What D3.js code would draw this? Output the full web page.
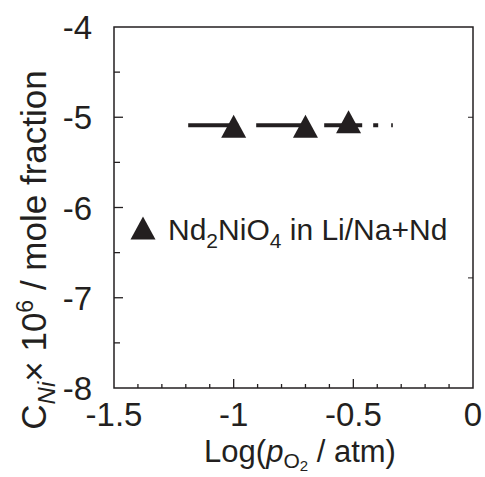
<!DOCTYPE html>
<html>
<head>
<meta charset="utf-8">
<style>
  body { margin:0; background:#fff; }
  svg text { font-family: "Liberation Sans", Arial, sans-serif; fill:#231f20; }
</style>
</head>
<body>
<div id="chart"></div>
<script src="https://cdn.jsdelivr.net/npm/d3@7"></script>
<script>
// data
var logPO2 = [-1.0, -0.7, -0.52];
var logC   = [-5.10, -5.10, -5.05];
var fitX   = [-1.19, -0.335];
var fitY   = [-5.09, -5.09];
var xTicks = [-1.5, -1, -0.5, 0];
var yTicks = [-8, -7, -6, -5, -4];
var rightTicks = [-5, -6.78];

var width = 485, height = 477;
var m = {left:114, right:12, top:27, bottom:89};

var svg = d3.select('#chart').append('svg')
    .attr('width', width).attr('height', height);

var x = d3.scaleLinear().domain([-1.5, 0]).range([m.left, width - m.right]);
var y = d3.scaleLinear().domain([-8, -4]).range([height - m.bottom, m.top]);

var ink = '#231f20';

// frame
svg.append('rect')
    .attr('x', x(-1.5)).attr('y', y(-4))
    .attr('width', x(0) - x(-1.5)).attr('height', y(-8) - y(-4))
    .attr('fill', 'none').attr('stroke', ink).attr('stroke-width', 1.5);

// inward ticks, minor every 0.1 on x and 0.5 on y
var xMinor = d3.range(-14, 0).map(d => d / 10);
svg.append('g').selectAll('line').data(xMinor).enter().append('line')
    .attr('x1', d => x(d)).attr('x2', d => x(d))
    .attr('y1', y(-8)).attr('y2', d => y(-8) - (Math.abs(d * 2 - Math.round(d * 2)) < 1e-6 ? 9 : 4))
    .attr('stroke', ink).attr('stroke-width', 1.3);

var yMinor = d3.range(-15, -8).map(d => d / 2);
svg.append('g').selectAll('line').data(yMinor).enter().append('line')
    .attr('x1', x(-1.5)).attr('x2', d => x(-1.5) + (Number.isInteger(d) ? 9 : 6))
    .attr('y1', d => y(d)).attr('y2', d => y(d))
    .attr('stroke', ink).attr('stroke-width', 1.3);

svg.append('g').selectAll('line').data(rightTicks).enter().append('line')
    .attr('x1', x(0)).attr('x2', x(0) - 5)
    .attr('y1', d => y(d)).attr('y2', d => y(d))
    .attr('stroke', ink).attr('stroke-width', 1);

// tick labels
svg.append('g').selectAll('text').data(xTicks).enter().append('text')
    .attr('x', d => x(d)).attr('y', 426)
    .attr('text-anchor', 'middle').attr('font-size', 33)
    .text(d => d);

svg.append('g').selectAll('text').data(yTicks).enter().append('text')
    .attr('x', 92).attr('y', d => y(d) + 12)
    .attr('text-anchor', 'end').attr('font-size', 33)
    .text(d => d);

// fitted line
var line = d3.line().x(d => x(d[0])).y(d => y(d[1]));
svg.append('path')
    .datum(d3.zip(fitX, fitY))
    .attr('d', line)
    .attr('fill', 'none').attr('stroke', ink).attr('stroke-width', 4)
    .attr('stroke-dasharray', '50 18 50 18 38 11 5 13 3');

// markers
function tri(cx, cy) {
    var w = 25, h = 23;
    return 'M' + (cx - w / 2) + ',' + (cy + h / 2) + 'L' + cx + ',' + (cy - h / 2) + 'L' + (cx + w / 2) + ',' + (cy + h / 2) + 'Z';
}
svg.append('g').selectAll('path').data(d3.zip(logPO2, logC)).enter().append('path')
    .attr('d', d => tri(x(d[0]), y(d[1])))
    .attr('fill', ink);

// legend
svg.append('path').attr('d', tri(143, 228)).attr('fill', ink);
var lg = svg.append('text').attr('x', 168).attr('y', 240).attr('font-size', 30);
lg.append('tspan').text('Nd');
lg.append('tspan').attr('font-size', 21).attr('dy', 8).text('2');
lg.append('tspan').attr('dy', -8).text('NiO');
lg.append('tspan').attr('font-size', 21).attr('dy', 8).text('4');
lg.append('tspan').attr('dy', -8).text(' in Li/Na+Nd');

// x axis title
var xt = svg.append('text').attr('x', 300).attr('y', 462)
    .attr('text-anchor', 'middle').attr('font-size', 31);
xt.append('tspan').text('Log(');
xt.append('tspan').attr('font-style', 'italic').text('p');
xt.append('tspan').attr('font-size', 21).attr('dy', 6).text('O');
xt.append('tspan').attr('font-size', 15).attr('dy', 3).text('2');
xt.append('tspan').attr('dy', -9).text(' / atm)');

// y axis title
var yt = svg.append('text')
    .attr('transform', 'translate(46,' + 250 + ') rotate(-90)')
    .attr('text-anchor', 'middle').attr('font-size', 35);
yt.append('tspan').text('C');
yt.append('tspan').attr('font-size', 24).attr('font-style', 'italic').attr('dy', 9).text('Ni');
yt.append('tspan').attr('dy', -9).text('\u00d7 10');
yt.append('tspan').attr('font-size', 23).attr('dy', -13).text('6');
yt.append('tspan').attr('dy', 13).text(' / mole fraction');
</script>
</body>
</html>
